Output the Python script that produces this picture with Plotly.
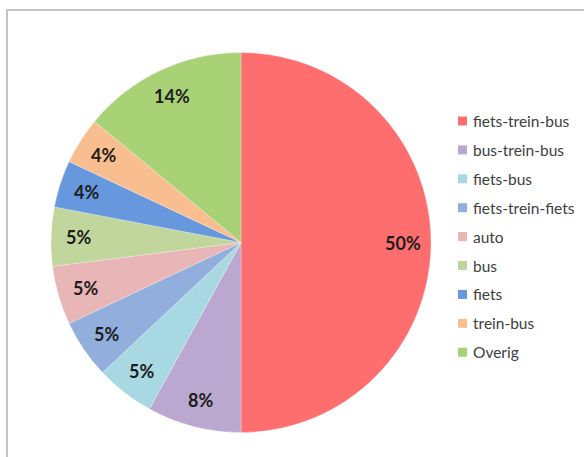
import math
import plotly.graph_objects as go

labels = ["fiets-trein-bus", "bus-trein-bus", "fiets-bus", "fiets-trein-fiets",
          "auto", "bus", "fiets", "trein-bus", "Overig"]
values = [50, 8, 5, 5, 5, 5, 4, 4, 14]
colors = ["#FF6E6E", "#BBA8D0", "#A8D9E3", "#91AEDC", "#E8B6B6",
          "#C0D69C", "#6797DC", "#F8BE90", "#A9D276"]

W, H = 584, 457
CX, CY, R = 241, 242.5, 190
LABEL_FRAC = 0.855

fig = go.Figure()
fig.add_trace(go.Pie(
    labels=labels, values=values, sort=False, direction="clockwise", rotation=0,
    marker=dict(colors=colors, line=dict(color="rgba(255,255,255,0.5)", width=0.5)),
    textinfo="none", showlegend=False,
    domain=dict(x=[(CX - R) / W, (CX + R) / W], y=[1 - (CY + R) / H, 1 - (CY - R) / H]),
    hoverinfo="label+percent",
))

annotations = []
total = sum(values)
cum = 0
for v in values:
    mid = (cum + v / 2) / total * 2 * math.pi
    cum += v
    px = CX + LABEL_FRAC * R * math.sin(mid)
    py = CY - LABEL_FRAC * R * math.cos(mid)
    annotations.append(dict(text="<b>%d%%</b>" % round(v / total * 100),
                            xref="paper", yref="paper", x=px / W, y=1 - py / H,
                            xanchor="center", yanchor="middle", showarrow=False,
                            font=dict(family="Lato", size=18, color="#1C1C1C")))

shapes = [dict(type="rect", xref="paper", yref="paper",
               x0=7 / W, x1=1.05, y0=-0.05, y1=1 - 10 / H,
               line=dict(color="#C4C4C4", width=2), fillcolor="rgba(0,0,0,0)")]
y0, step = 121, 28.9
for i, (lab, col) in enumerate(zip(labels, colors)):
    yc = y0 + i * step
    shapes.append(dict(type="rect", xref="paper", yref="paper",
                       x0=458 / W, x1=467 / W, y0=1 - (yc + 4.5) / H, y1=1 - (yc - 4.5) / H,
                       line=dict(width=0), fillcolor=col))
    annotations.append(dict(text=lab, xref="paper", yref="paper", x=471 / W, y=1 - yc / H,
                            xanchor="left", yanchor="middle", showarrow=False,
                            font=dict(family="Lato", size=15.5, color="#404040")))

fig.update_layout(
    width=W, height=H, margin=dict(l=0, r=0, t=0, b=0),
    paper_bgcolor="white", plot_bgcolor="white",
    shapes=shapes, annotations=annotations,
)
fig.write_html("out.html", config={"displayModeBar": False},
               post_script="document.body.style.margin='0';")
